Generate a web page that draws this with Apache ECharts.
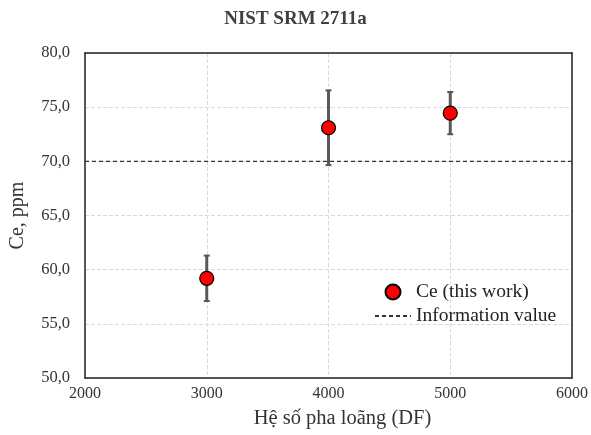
<!DOCTYPE html>
<html>
<head>
<meta charset="utf-8">
<script src="https://cdn.jsdelivr.net/npm/echarts@6/dist/echarts.min.js"></script>
<style>
  html, body { margin: 0; padding: 0; background: #fff; }
  #chart { width: 591px; height: 435px; }
</style>
</head>
<body>
<div id="chart"></div>
<script>
// dilution factors and measured Ce (ppm) with error bar half-widths
const dfValues = [3000, 4000, 5000]
const ceValues = [59.2, 73.1, 74.45]
const ceErrors = [2.1, 3.45, 1.95]
const infoValue = 70.0
const xRange = [2000, 6000]

const font = '"Liberation Serif", "DejaVu Serif", serif'

const points = dfValues.map((x, i) => [x, ceValues[i]])
const bars = dfValues.map((x, i) => [x, ceValues[i] - ceErrors[i], ceValues[i] + ceErrors[i]])
const infoLine = xRange.map(x => [x, infoValue])

const chart = echarts.init(document.getElementById('chart'))

const frameAxis = {
  type: 'value',
  axisLine: { show: true, onZero: false, lineStyle: { color: '#222', width: 1.5 } },
  axisTick: { show: false },
  axisLabel: { show: false },
  splitLine: { show: false }
}

chart.setOption({
  backgroundColor: '#fff',
  animation: false,
  title: {
    text: 'NIST SRM 2711a',
    left: 'center',
    top: 5,
    textStyle: { fontFamily: font, fontSize: 19, fontWeight: 'bold', color: '#404040' }
  },
  legend: {
    orient: 'vertical',
    left: 369,
    top: 277,
    itemWidth: 36,
    itemHeight: 15,
    itemGap: 4,
    textStyle: { fontFamily: font, fontSize: 19.5, color: '#222' },
    data: [
      { name: 'Ce (this work)' },
      { name: 'Information value', itemStyle: { opacity: 0 } }
    ]
  },
  grid: { left: 84, right: 19, top: 53, bottom: 57 },
  xAxis: [
    {
      type: 'value',
      min: 2000, max: 6000, interval: 1000,
      name: 'Hệ số pha loãng (DF)',
      nameLocation: 'middle',
      nameGap: 30,
      nameTextStyle: { fontFamily: font, fontSize: 20.5, color: '#333', padding: [0, 0, 0, 28] },
      axisLine: { onZero: false, lineStyle: { color: '#222', width: 1.5 } },
      axisTick: { show: false },
      axisLabel: { fontFamily: font, fontSize: 16, color: '#333', margin: 8, formatter: v => String(v) },
      splitLine: { lineStyle: { color: '#d9d9d9', type: 'dashed' } }
    },
    Object.assign({ position: 'top', min: 2000, max: 6000 }, frameAxis)
  ],
  yAxis: [
    {
      type: 'value',
      min: 50, max: 80, interval: 5,
      name: 'Ce, ppm',
      nameLocation: 'middle',
      nameGap: 57,
      nameTextStyle: { fontFamily: font, fontSize: 20, color: '#333' },
      axisLine: { show: true, onZero: false, lineStyle: { color: '#222', width: 1.5 } },
      axisTick: { show: false },
      axisLabel: {
        fontFamily: font, fontSize: 16.5, color: '#333', margin: 15,
        formatter: v => v.toFixed(1).replace('.', ',')
      },
      splitLine: { lineStyle: { color: '#d9d9d9', type: 'dashed' } }
    },
    Object.assign({ position: 'right', min: 50, max: 80 }, frameAxis)
  ],
  series: [
    {
      name: 'Information value',
      type: 'line',
      data: infoLine,
      symbol: 'none',
      lineStyle: { color: '#333', width: 1.3, type: [4, 3] },
      itemStyle: { color: '#333' },
      z: 2
    },
    {
      type: 'custom',
      data: bars,
      encode: { x: 0, y: [1, 2] },
      renderItem: (params, api) => {
        const x = api.value(0)
        const lo = api.coord([x, api.value(1)])
        const hi = api.coord([x, api.value(2)])
        const cap = 3
        const capStyle = { stroke: '#595959', lineWidth: 2 }
        return {
          type: 'group',
          children: [
            { type: 'line', shape: { x1: lo[0], y1: lo[1], x2: hi[0], y2: hi[1] }, style: { stroke: '#595959', lineWidth: 3 } },
            { type: 'line', shape: { x1: lo[0] - cap, y1: lo[1], x2: lo[0] + cap, y2: lo[1] }, style: capStyle },
            { type: 'line', shape: { x1: hi[0] - cap, y1: hi[1], x2: hi[0] + cap, y2: hi[1] }, style: capStyle }
          ]
        }
      },
      z: 3
    },
    {
      name: 'Ce (this work)',
      type: 'scatter',
      data: points,
      symbol: 'circle',
      symbolSize: 14,
      itemStyle: { color: '#ff0000', borderColor: '#000', borderWidth: 1.2, opacity: 1 },
      z: 4
    }
  ]
})
</script>
</body>
</html>
